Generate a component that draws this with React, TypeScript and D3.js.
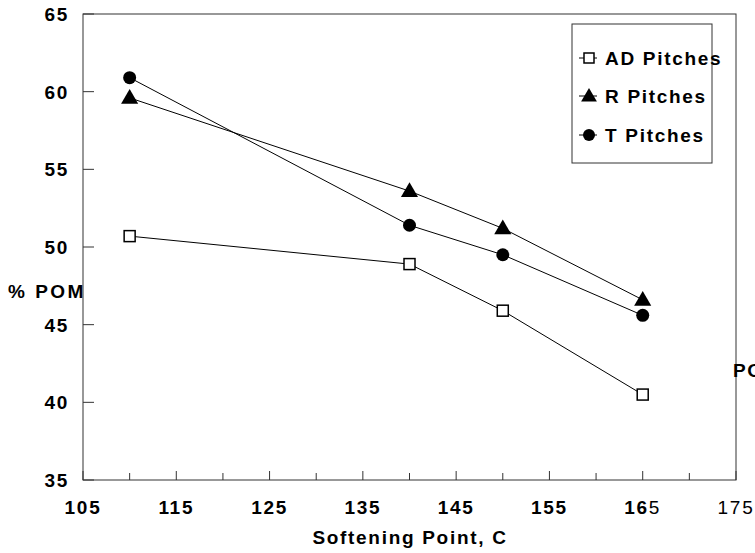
import React from 'react';
import * as d3 from 'd3';

// softening point (C) for each measurement
const softeningPoints = [110, 140, 150, 165];
const adPitches = [50.7, 48.9, 45.9, 40.5];
const rPitches = [59.6, 53.6, 51.2, 46.6];
const tPitches = [60.9, 51.4, 49.5, 45.6];

const seriesNames = ['AD Pitches', 'R Pitches', 'T Pitches'];
const seriesShapes = ['square', 'triangle', 'circle'];

const xTicks = [105, 115, 125, 135, 145, 155, 165, 175];
const xMinorTicks = [110, 120, 130, 140, 150, 160, 170];
const yTicks = [35, 40, 45, 50, 55, 60, 65];

const width = 755;
const height = 553;
const margin = { top: 14, right: 19, bottom: 73, left: 83 };
const font = '"Liberation Sans", Arial, sans-serif';

const Marker = ({ shape, x, y, s }: { shape: string; x: number; y: number; s: number }) => {
  if (shape === 'square')
    return <rect x={x - s / 2} y={y - s / 2} width={s} height={s} fill="#fff" stroke="#000" strokeWidth={1.5} />;
  if (shape === 'triangle') {
    const p = d3.symbol(d3.symbolTriangle, s * s * 0.75)();
    return <path d={p || ''} transform={`translate(${x},${y + 1})`} fill="#000" />;
  }
  return <circle cx={x} cy={y} r={s / 2} fill="#000" />;
};

export default function App() {
  const x = d3.scaleLinear().domain([105, 175]).range([margin.left, width - margin.right]);
  const y = d3.scaleLinear().domain([35, 65]).range([height - margin.bottom, margin.top]);

  const series = [adPitches, rPitches, tPitches];
  const line = d3
    .line<number>()
    .x((_, i) => x(softeningPoints[i]))
    .y((d) => y(d));

  const textStyle = { fontFamily: font, fontWeight: 700, fontSize: 19, letterSpacing: 1.7 };

  // the original export renders a couple of labels partly in regular weight
  const tickLabel = (t: number) => {
    if (t === 165)
      return (
        <>
          <tspan>16</tspan>
          <tspan fontWeight={400}>5</tspan>
        </>
      );
    if (t === 175) return <tspan fontWeight={400}>{t}</tspan>;
    return t;
  };

  const y0 = y(35);
  const legendRows = [58, 96, 135];

  return (
    <svg width={width} height={height} style={{ position: 'absolute', left: 0, top: 0, background: '#fff' }}>
      {/* plot frame */}
      <rect
        x={x(105)}
        y={y(65)}
        width={x(175) - x(105)}
        height={y(35) - y(65)}
        fill="none"
        stroke="#333"
        strokeWidth={1}
      />

      {/* y axis ticks and labels */}
      {yTicks.map((t) => (
        <g key={t}>
          <line x1={x(105)} x2={x(105) + 11} y1={y(t)} y2={y(t)} stroke="#333" />
          <text x={69} y={y(t) + 7} textAnchor="end" {...textStyle}>
            {t}
          </text>
        </g>
      ))}

      {/* x axis ticks and labels */}
      {xTicks.map((t) => (
        <g key={t}>
          <line x1={x(t)} x2={x(t)} y1={y0} y2={y0 - 9} stroke="#333" />
          <text x={x(t)} y={514} textAnchor="middle" {...textStyle}>
            {tickLabel(t)}
          </text>
        </g>
      ))}
      {xMinorTicks.map((t) => (
        <line key={t} x1={x(t)} x2={x(t)} y1={y0} y2={y0 - 7} stroke="#333" />
      ))}

      {/* series lines */}
      {series.map((s, i) => (
        <path key={i} d={line(s) || ''} fill="none" stroke="#000" strokeWidth={1} />
      ))}

      {/* series markers */}
      {series.map((s, i) =>
        s.map((v, j) => (
          <Marker key={`${i}-${j}`} shape={seriesShapes[i]} x={x(softeningPoints[j])} y={y(v)} s={i === 0 ? 11 : 13} />
        ))
      )}

      {/* legend */}
      <rect x={572} y={24} width={140} height={139} fill="#fff" stroke="#333" />
      {seriesNames.map((name, i) => (
        <g key={name}>
          <line x1={579} x2={597} y1={legendRows[i]} y2={legendRows[i]} stroke="#000" />
          <Marker shape={seriesShapes[i]} x={589} y={legendRows[i]} s={i === 0 ? 10 : 12} />
          <text x={605} y={legendRows[i] + 7} {...textStyle}>
            {name}
          </text>
        </g>
      ))}

      {/* axis titles */}
      <text x={8} y={298} {...textStyle} letterSpacing={2.5}>
        % POM
      </text>
      <text x={733} y={377} {...textStyle}>
        POM
      </text>
      <text x={410} y={544} textAnchor="middle" {...textStyle}>
        Softening Point, C
      </text>
    </svg>
  );
}
